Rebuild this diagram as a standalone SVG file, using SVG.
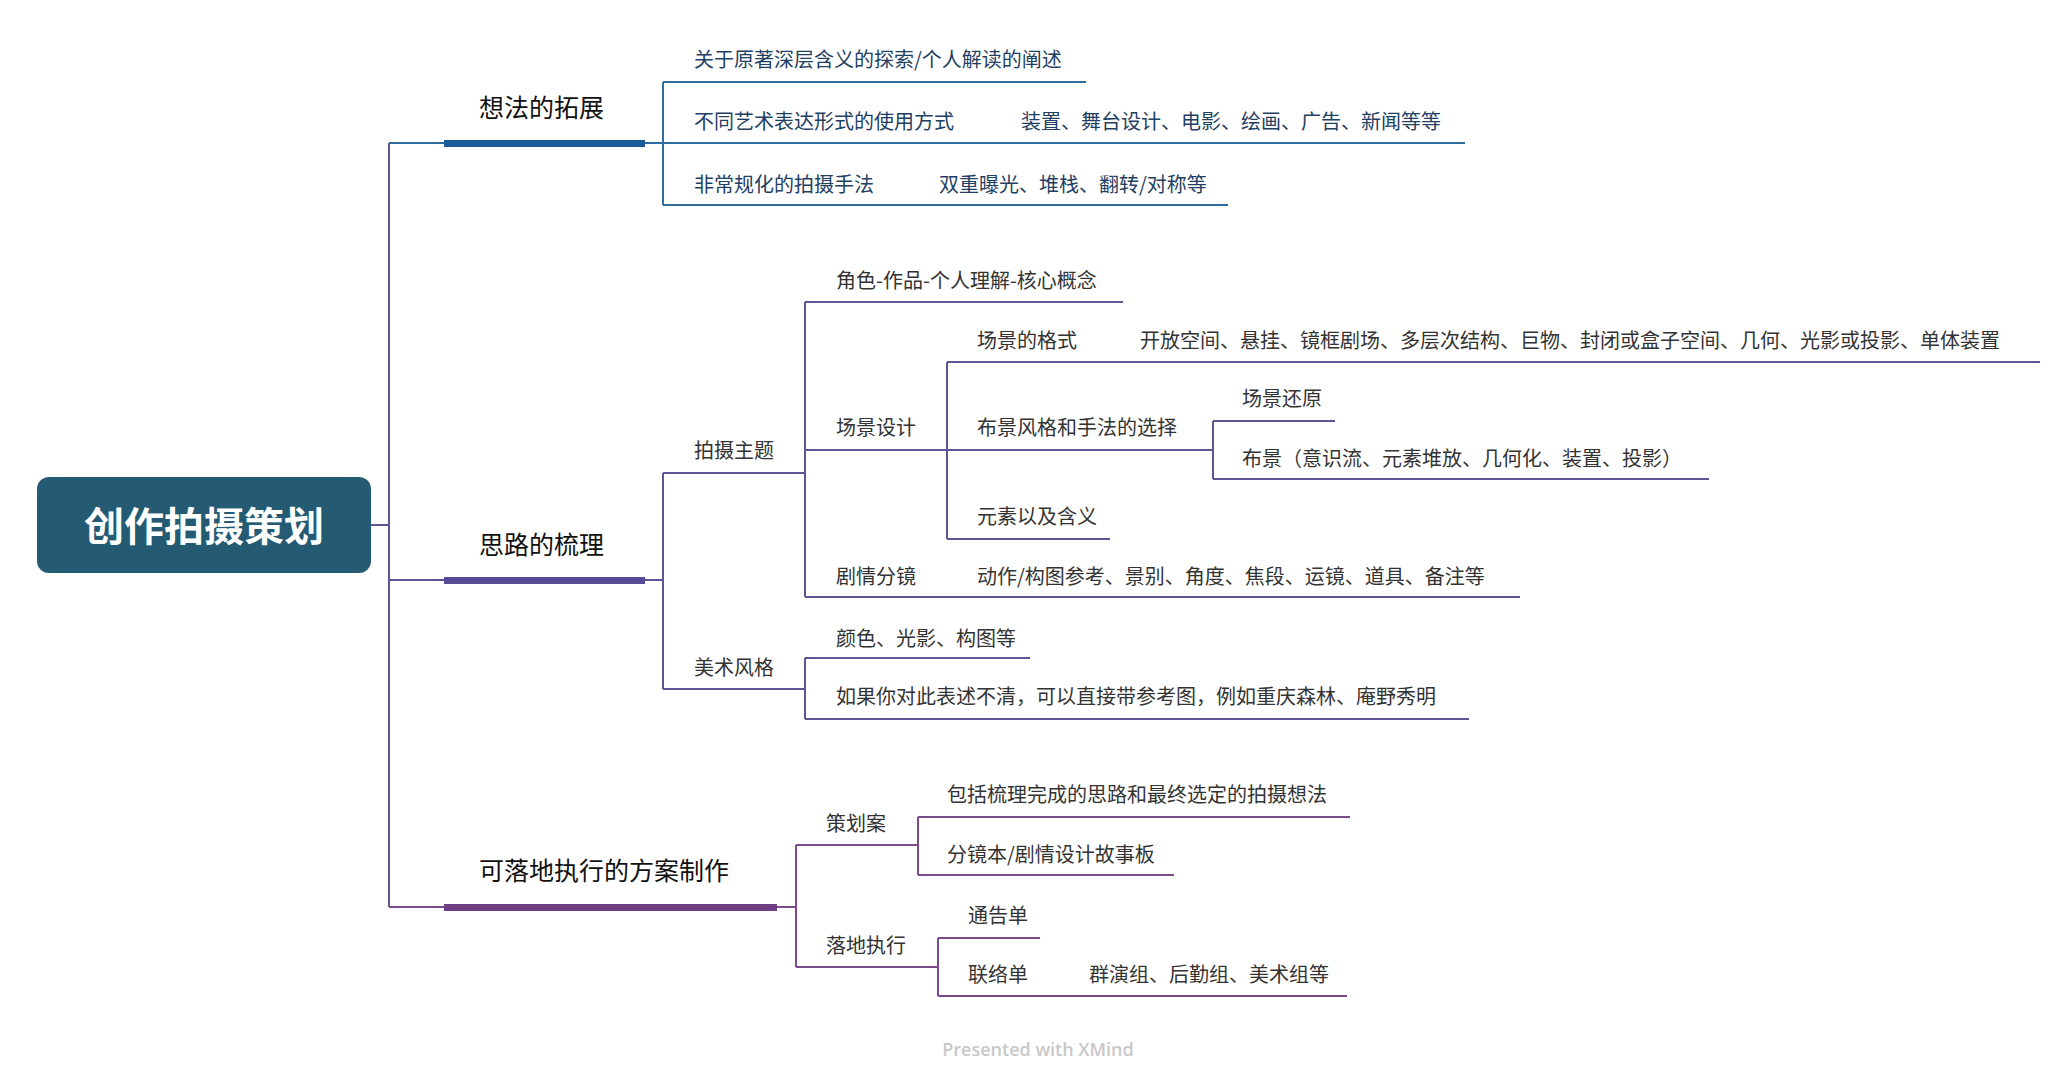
<svg xmlns="http://www.w3.org/2000/svg" width="2066" height="1080" viewBox="0 0 2066 1080">
<style>
text{font-family:"Noto Sans CJK SC","Noto Sans",sans-serif;dominant-baseline:central}
.t{font-size:20px;fill:#333}
.tb{font-size:20px;fill:#1f3f63}
.m{font-size:25px;fill:#111}
.l1{stroke:#2f6d9e;stroke-width:2;fill:none}
.l2{stroke:#5f5594;stroke-width:2;fill:none}
.l3{stroke:#7a4c8c;stroke-width:2;fill:none}
</style>
<rect width="2066" height="1080" fill="#fff"/>
<g id="connectors">
<path class="l2" d="M371 525H389M389 143V907"/>
<path class="l1" d="M389 143H444M645 143H663M663 82V205M663 82H1086M663 143H1465M663 205H1228"/>
<path class="l2" d="M389 580H444M645 580H663M663 473V689M663 473H805M805 302V597M805 302H1123M805 450H947M947 362V539M947 362H2040M947 450H1213M1213 421V479M1213 421H1335M1213 479H1709M947 539H1110M805 597H1520M663 689H805M805 658V719M805 658H1030M805 719H1469"/>
<path class="l3" d="M389 907H444M777 907H796M796 845V967M796 845H918M918 817V875M918 817H1350M918 875H1174M796 967H938M938 938V996M938 938H1040M938 996H1347"/>
</g>
<g id="root"><rect x="37" y="477" width="334" height="96" rx="12" fill="#245a72"/><text x="204" y="524" text-anchor="middle" style="font-size:40px;font-weight:bold;fill:#fff">创作拍摄策划</text></g>
<g id="b1"><rect x="444" y="140" width="201" height="7" fill="#1a5b98"/><text class="m" x="479" y="106">想法的拓展</text></g>
<g id="b1c1"><text class="tb" x="694" y="58">关于原著深层含义的探索/个人解读的阐述</text></g>
<g id="b1c2"><text class="tb" x="694" y="120">不同艺术表达形式的使用方式</text><text class="tb" x="1021" y="120">装置、舞台设计、电影、绘画、广告、新闻等等</text></g>
<g id="b1c3"><text class="tb" x="694" y="183">非常规化的拍摄手法</text><text class="tb" x="939" y="183">双重曝光、堆栈、翻转/对称等</text></g>
<g id="b2"><rect x="444" y="577" width="201" height="7" fill="#564c96"/><text class="m" x="479" y="543">思路的梳理</text></g>
<g id="n_psz"><text class="t" x="694" y="449">拍摄主题</text></g>
<g id="n_js"><text class="t" x="836" y="279">角色-作品-个人理解-核心概念</text></g>
<g id="n_cjsj"><text class="t" x="836" y="426">场景设计</text></g>
<g id="n_cjgs"><text class="t" x="977" y="339">场景的格式</text><text class="t" x="1140" y="339">开放空间、悬挂、镜框剧场、多层次结构、巨物、封闭或盒子空间、几何、光影或投影、单体装置</text></g>
<g id="n_bjfg"><text class="t" x="977" y="426">布景风格和手法的选择</text></g>
<g id="n_cjhy"><text class="t" x="1242" y="397">场景还原</text></g>
<g id="n_bj"><text class="t" x="1242" y="457">布景（意识流、元素堆放、几何化、装置、投影）</text></g>
<g id="n_ys"><text class="t" x="977" y="515">元素以及含义</text></g>
<g id="n_jq"><text class="t" x="836" y="575">剧情分镜</text><text class="t" x="977" y="575">动作/构图参考、景别、角度、焦段、运镜、道具、备注等</text></g>
<g id="n_msfg"><text class="t" x="694" y="666">美术风格</text></g>
<g id="n_ys2"><text class="t" x="836" y="637">颜色、光影、构图等</text></g>
<g id="n_rg"><text class="t" x="836" y="695">如果你对此表述不清，可以直接带参考图，例如重庆森林、庵野秀明</text></g>
<g id="b3"><rect x="444" y="904" width="333" height="7" fill="#6e3f82"/><text class="m" x="479" y="869">可落地执行的方案制作</text></g>
<g id="n_chа"><text class="t" x="826" y="822">策划案</text></g>
<g id="n_bk"><text class="t" x="947" y="793">包括梳理完成的思路和最终选定的拍摄想法</text></g>
<g id="n_fjb"><text class="t" x="947" y="853">分镜本/剧情设计故事板</text></g>
<g id="n_ldzx"><text class="t" x="826" y="944">落地执行</text></g>
<g id="n_tgd"><text class="t" x="968" y="914">通告单</text></g>
<g id="n_lld"><text class="t" x="968" y="973">联络单</text><text class="t" x="1089" y="973">群演组、后勤组、美术组等</text></g>
<text x="1038" y="1049" text-anchor="middle" style="font-family:'Open Sans',sans-serif;font-size:18px;fill:#c8c8c8;font-weight:600">Presented with XMind</text>
</svg>
